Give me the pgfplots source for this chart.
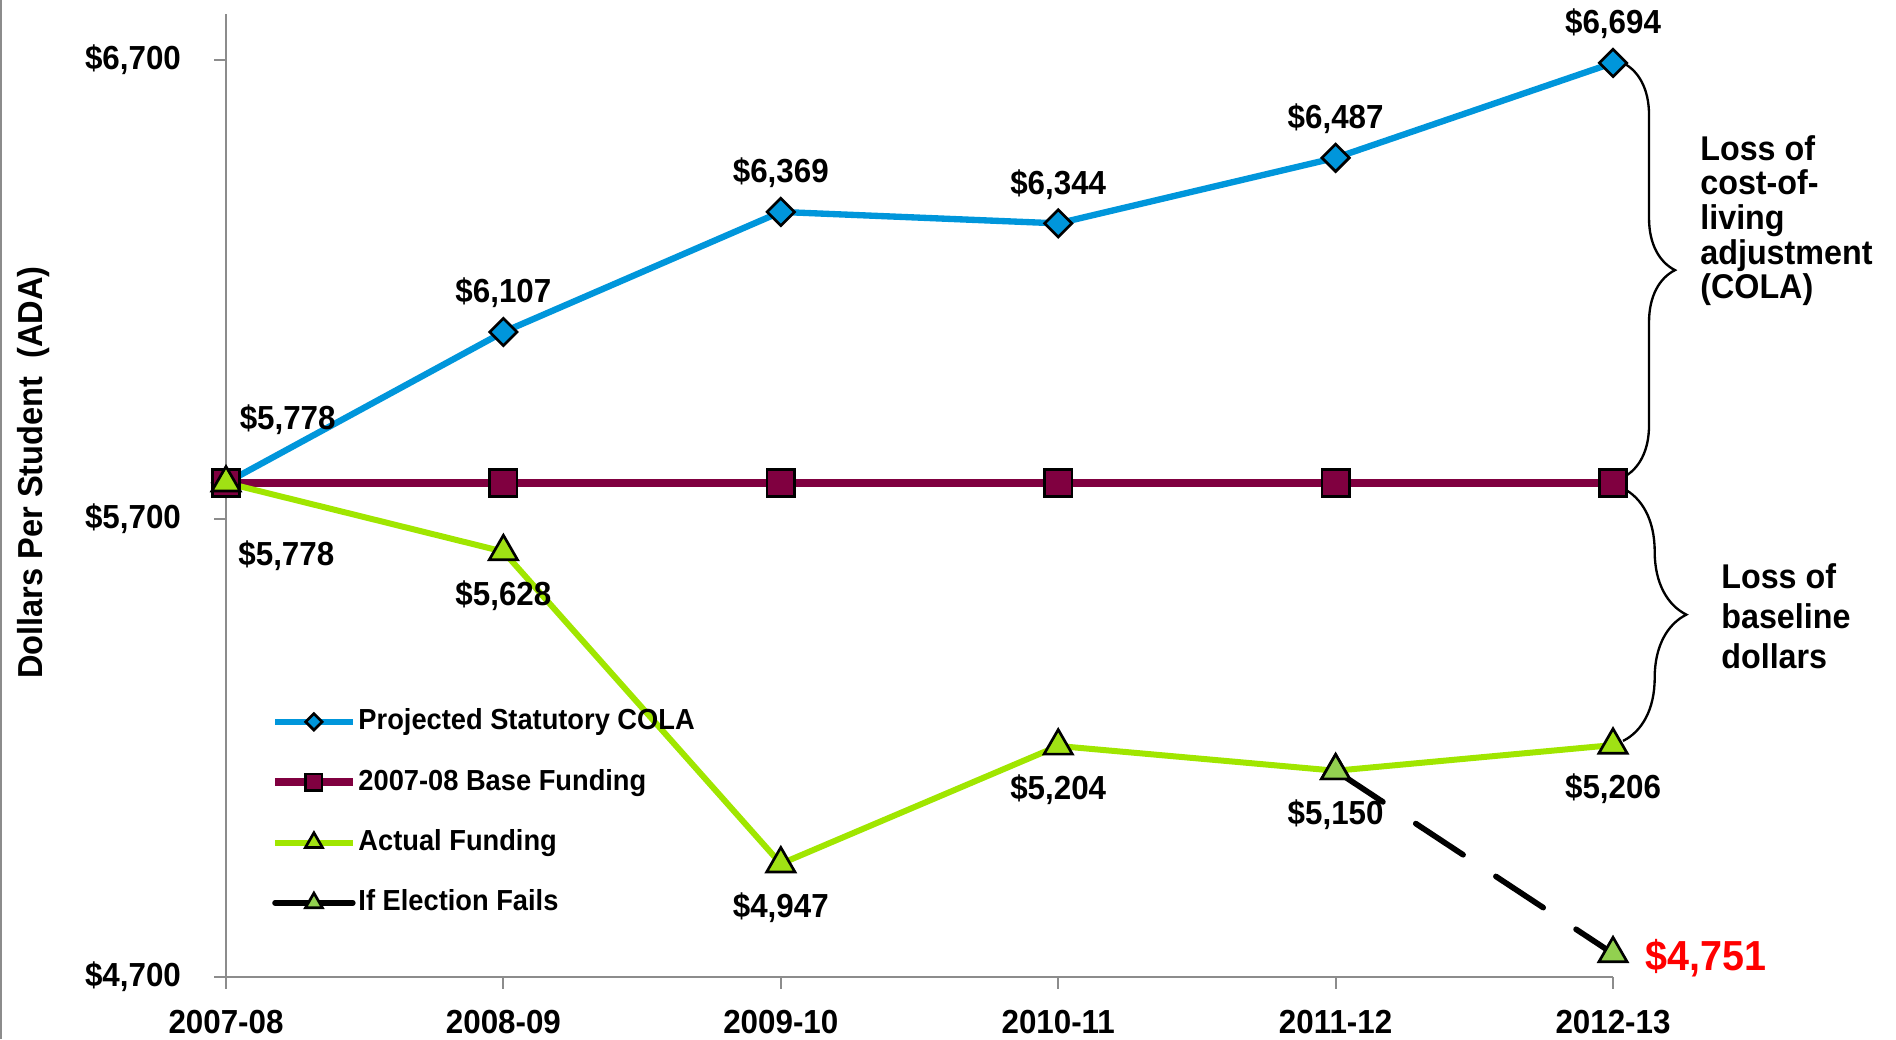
\documentclass[border=0pt]{standalone}
\usepackage{fontspec}
\setmainfont{Liberation Sans}[FakeStretch=0.94]
\usepackage{pgfplots}
\pgfplotsset{compat=1.18}
\usetikzlibrary{decorations.pathreplacing}
\definecolor{colablue}{RGB}{0,150,219}
\definecolor{basered}{RGB}{128,0,64}
\definecolor{actgreen}{RGB}{160,230,0}
\definecolor{trifill}{RGB}{160,225,20}
\definecolor{failfill}{RGB}{146,208,80}
\definecolor{axisgray}{RGB}{140,140,140}
\newcommand\lab{\fontsize{10}{12}\selectfont\bfseries}
\begin{document}
\lineskiplimit=-20pt
\begin{tikzpicture}
\path[use as bounding box] (0,0) rectangle (568.8pt,311.7pt);
\draw[axisgray, line width=0.6pt] (0.4pt,0) -- (0.4pt,311.7pt);
\begin{axis}[
  at={(67.8pt,18.6pt)}, anchor=south west,
  scale only axis, width=416.1pt, height=288.8pt,
  xmin=0, xmax=5, ymin=4700, ymax=6800,
  clip=false,
  axis x line*=bottom, axis y line*=left,
  axis line style={axisgray, line width=0.6pt},
  tick style={axisgray, line width=0.6pt},
  tick align=outside, major tick length=3.5pt,
  xtick={0,1,2,3,4,5},
  xticklabels={2007-08,2008-09,2009-10,2010-11,2011-12,2012-13},
  ytick={4700,5700,6700},
  yticklabels={{\$4,700},{\$5,700},{\$6,700}},
  ticklabel style={font=\lab},
  xticklabel style={yshift=-2.8pt},
  yticklabel style={xshift=-6.5pt},
  ylabel={Dollars Per Student\ \ (ADA)},
  ylabel style={font=\fontsize{10.4}{12}\selectfont\bfseries, at={(axis description cs:-0.1386,0.524)}, anchor=center},
  legend style={at={(0.032,0.281)}, anchor=north west, draw=none, fill=none,
    font=\fontsize{8.7}{10}\selectfont\bfseries, row sep=9.3pt, inner sep=0pt, nodes={inner sep=0.5pt}},
  legend cell align=left,
  legend image code/.code={\draw[mark repeat=2,mark phase=2,#1, every mark/.append style={scale=0.6}] plot coordinates {(0cm,0cm) (0.41cm,0cm) (0.82cm,0cm)};},
  nodes near coords={\textdollar\pgfplotspointmeta},
  every node near coord/.append style={font=\lab, text=black},
]
\addplot[colablue, line width=1.9pt, mark=square*, mark size=2.9pt,
  mark options={rotate=45, fill=colablue, draw=black, line width=0.8pt},
  point meta=explicit symbolic,
  every node near coord/.append style={anchor=south, yshift=3.5pt},
  coordinate style/.condition={x==0}{xshift=18.5pt, yshift=7.3pt}]
coordinates {(0,5778) [5,778] (1,6107) [6,107] (2,6369) [6,369] (3,6344) [6,344] (4,6487) [6,487] (5,6694) [6,694]};
\addlegendentry{Projected Statutory COLA}
\addplot[basered, line width=2.4pt, mark=square*, mark size=4.1pt,
  mark options={fill=basered, draw=black, line width=0.8pt}, nodes near coords={}]
coordinates {(0,5778) (1,5778) (2,5778) (3,5778) (4,5778) (5,5778)};
\addlegendentry{2007-08 Base Funding}
\addplot[actgreen, line width=1.8pt, mark=triangle*, mark size=4.9pt,
  mark options={fill=trifill, draw=black, line width=0.8pt},
  point meta=explicit symbolic,
  every node near coord/.append style={anchor=north, yshift=-5pt},
  coordinate style/.condition={x==0}{xshift=18.1pt, yshift=-8.7pt}]
coordinates {(0,5778) [5,778] (1,5628) [5,628] (2,4947) [4,947] (3,5204) [5,204] (4,5150) [5,150] (5,5206) [5,206]};
\addlegendentry{Actual Funding}
\addplot[black, line width=1.7pt, dash pattern=on 17pt off 11.8pt, line cap=round, mark=triangle*, mark size=4.9pt,
  mark options={solid, fill=failfill, draw=black, line width=0.8pt},
  legend image post style={solid},
  point meta=explicit symbolic,
  every node near coord/.append style={anchor=west, xshift=6pt, yshift=-1.4pt, text=red, font=\fontsize{12.6}{14}\selectfont\bfseries},
  coordinate style/.condition={x<4.5}{text opacity=0}]
coordinates {(4,5150) [5,150] (5,4751) [4,751]};
\addlegendentry{If Election Fails}
\draw[decorate, decoration={brace, amplitude=15.6pt}, line width=0.7pt] ([xshift=3pt]axis cs:5,6694) -- ([xshift=3pt]axis cs:5,5790);
\draw[decorate, decoration={brace, amplitude=19pt}, line width=0.7pt] ([xshift=3pt]axis cs:5,5766) -- ([xshift=3pt]axis cs:5,5215);
\node[anchor=west, align=left, font=\fontsize{10.3}{10.4}\selectfont\bfseries, inner sep=0pt] at ([xshift=26pt]axis cs:5,6350) {Loss of\\cost-of-\\living\\adjustment\\(COLA)};
\node[anchor=west, align=left, font=\fontsize{10.3}{12}\selectfont\bfseries, inner sep=0pt] at ([xshift=32.3pt]axis cs:5,5486) {Loss of\\baseline\\dollars};
\end{axis}
\end{tikzpicture}
\end{document}
